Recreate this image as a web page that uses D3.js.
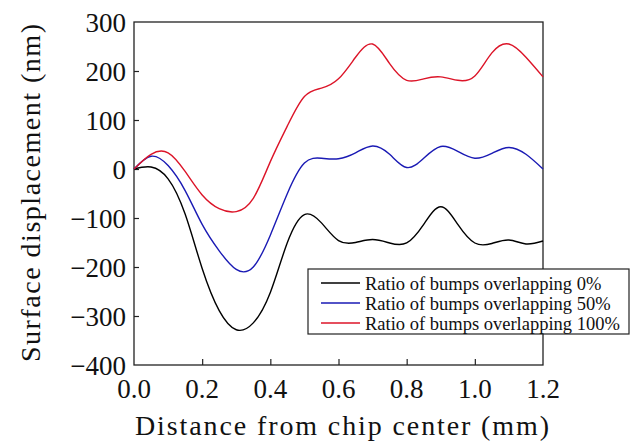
<!DOCTYPE html>
<html>
<head>
<meta charset="utf-8">
<script src="https://cdn.jsdelivr.net/npm/d3@7"></script>
<style>
  body { margin: 0; background: #fff; }
  svg { display: block; }
</style>
</head>
<body>
<svg id="chart" width="634" height="443"></svg>
<script>
const distance = [0, 0.05, 0.1, 0.15, 0.2, 0.25, 0.3, 0.35, 0.4, 0.45, 0.5, 0.55, 0.6,
    0.65, 0.7, 0.75, 0.8, 0.85, 0.9, 0.95, 1.0, 1.05, 1.1, 1.15, 1.2]
const ratio0 = [0, 4, -20, -92, -203, -289, -328, -314, -252, -150, -93, -110, -146,
    -150, -144, -151, -151, -113, -77, -113, -151, -152, -145, -153, -147]
const ratio50 = [0, 26, 7, -44, -113, -167, -205, -200, -135, -50, 12, 22, 21,
    33, 47, 30, 3, 22, 46, 36, 22, 32, 44, 30, 0]
const ratio100 = [0, 30, 33, -5, -53, -81, -87, -60, 15, 88, 148, 165, 184,
    228, 255, 215, 181, 184, 188, 181, 190, 237, 255, 228, 188]

const seriesNames = ['Ratio of bumps overlapping 0%', 'Ratio of bumps overlapping 50%', 'Ratio of bumps overlapping 100%']
const seriesValues = [ratio0, ratio50, ratio100]
const colors = ['#000000', '#1a1ab4', '#dc1428']

const xTicks = [0, 0.2, 0.4, 0.6, 0.8, 1.0, 1.2]
const yTicks = [300, 200, 100, 0, -100, -200, -300, -400]

const SVG = d3.select('#chart')
const Width = 634, Height = 443
const Margin = { top: 22, left: 134, right: 91, bottom: 78 }
const innerWidth = Width - Margin.left - Margin.right
const innerHeight = Height - Margin.top - Margin.bottom
const font = '"Liberation Serif", "DejaVu Serif", serif'

// scales in page coordinates
const xscale = d3.scaleLinear().domain([0, 1.2]).range([Margin.left, Margin.left + innerWidth])
const yscale = d3.scaleLinear().domain([-400, 300]).range([Margin.top + innerHeight, Margin.top])

// frame
SVG.append('rect')
    .attr('x', Margin.left).attr('y', Margin.top)
    .attr('width', innerWidth).attr('height', innerHeight)
    .attr('fill', 'none').attr('stroke', '#222').attr('stroke-width', 1.3)

// inward ticks, labels drawn separately
const bottom = d3.axisBottom(xscale).tickValues(xTicks.slice(1, -1)).tickSizeInner(-6).tickSizeOuter(0).tickFormat('')
const left = d3.axisLeft(yscale).tickValues(yTicks.slice(1, -1)).tickSizeInner(-5).tickSizeOuter(0).tickFormat('')

for (const [ax, tr] of [[bottom, `translate(0, ${Margin.top + innerHeight})`], [left, `translate(${Margin.left}, 0)`]]) {
    const a = SVG.append('g').attr('transform', tr).call(ax)
    a.select('.domain').remove()
    a.selectAll('line').attr('stroke', '#222').attr('stroke-width', 1.2)
    a.selectAll('text').remove()
}

xTicks.forEach(d => {
    SVG.append('text')
        .text(d.toFixed(1))
        .attr('x', xscale(d))
        .attr('y', Margin.top + innerHeight + 33)
        .attr('text-anchor', 'middle')
        .style('font-family', font).style('font-size', '27px')
        .attr('fill', '#111')
})

yTicks.forEach(d => {
    SVG.append('text')
        .text(d < 0 ? '\u2212' + Math.abs(d) : d)
        .attr('x', Margin.left - 8)
        .attr('y', yscale(d) + 9.5)
        .attr('text-anchor', 'end')
        .style('font-family', font).style('font-size', '27px')
        .attr('fill', '#111')
})

// curves
const line = d3.line()
    .x((d, i) => xscale(distance[i]))
    .y(d => yscale(d))
    .curve(d3.curveNatural)

seriesValues.forEach((vals, k) => {
    SVG.append('path')
        .datum(vals)
        .attr('d', line)
        .attr('fill', 'none')
        .attr('stroke', colors[k])
        .attr('stroke-width', 1.4)
})

// legend
const lx = 308, ly = 269
SVG.append('rect')
    .attr('x', lx).attr('y', ly)
    .attr('width', 321).attr('height', 65)
    .attr('fill', '#fff').attr('stroke', '#222').attr('stroke-width', 1.2)

seriesNames.forEach((name, k) => {
    let y = ly + 14 + k * 20
    SVG.append('line')
        .attr('x1', lx + 13).attr('x2', lx + 52)
        .attr('y1', y).attr('y2', y)
        .attr('stroke', colors[k]).attr('stroke-width', 1.3)
    SVG.append('text')
        .text(name)
        .attr('x', lx + 57)
        .attr('y', y + 7)
        .style('font-family', font)
        .style('font-size', '18.5px')
        .attr('fill', '#111')
})

// axis titles
SVG.append('text')
    .text('Distance from chip center (mm)')
    .attr('x', 135).attr('y', 435)
    .attr('textLength', 414)
    .attr('lengthAdjust', 'spacing')
    .style('font-family', font)
    .style('font-size', '28px')
    .attr('fill', '#111')

SVG.append('text')
    .text('Surface displacement (nm)')
    .attr('x', 40).attr('y', 362)
    .attr('transform', 'rotate(-90, 40, 362)')
    .attr('textLength', 338)
    .attr('lengthAdjust', 'spacing')
    .style('font-family', font)
    .style('font-size', '28px')
    .attr('fill', '#111')
</script>
</body>
</html>
